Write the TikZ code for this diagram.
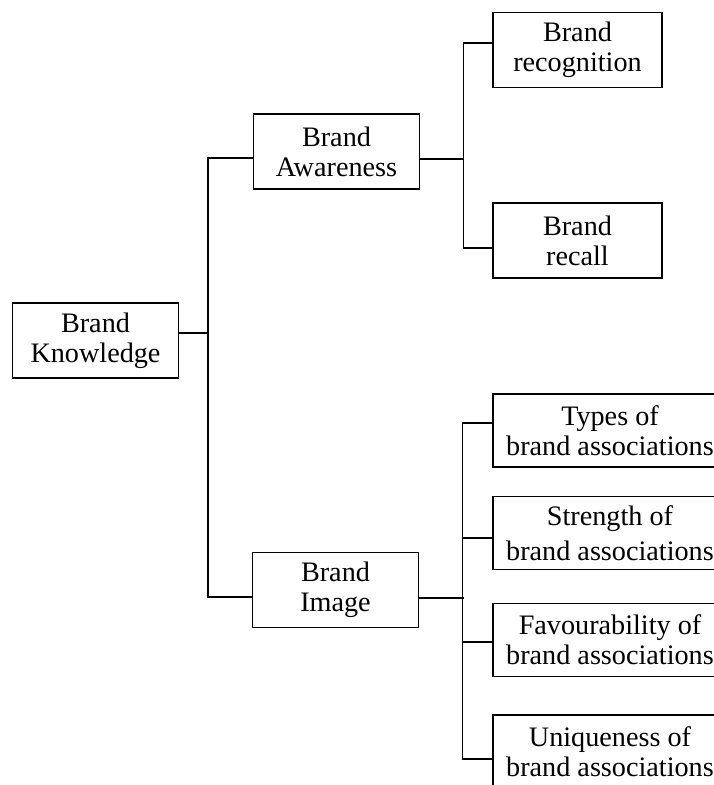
\documentclass[tikz,border=0pt]{standalone}
\usepackage{fontspec}
\setmainfont{Liberation Serif}

\begin{document}
\begin{tikzpicture}[x=1pt, y=-1pt,
    box/.style={draw, line width=1.3pt, inner sep=0pt, align=center,
      font=\fontsize{28.2}{30}\selectfont},
    smallbox/.style={box, minimum width=166pt, minimum height=75pt},
    assocbox/.style={box, minimum width=234pt, minimum height=73pt},
    link/.style={line width=1.3pt}]
    \useasboundingbox (0,0) rectangle (714,785);
    \clip (0,0) rectangle (714,785);

    % Root and second level
    \node[smallbox] (know) at (95.5,340.5) {Brand\\Knowledge};
    \node[smallbox] (aware) at (336.5,151.5) {Brand\\Awareness};
    \node[smallbox] (image) at (335.5,590) {Brand\\Image};

    % Awareness leaves
    \node[smallbox, minimum width=169pt] (recog) at (577.5,50) {Brand\\recognition};
    \node[smallbox, minimum width=169pt] (recall) at (577.5,240.5) {Brand\\recall};

    % Image leaves (run off the right edge)
    \node[assocbox] (types) at (610,430.5) {Types of\\brand associations};
    \node[assocbox] (strength) at (610,533) {Strength of\\[5pt]brand associations};
    \node[assocbox] (favour) at (610,640) {Favourability of\\brand associations};
    \node[assocbox] (unique) at (610,751.5) {Uniqueness of\\brand associations};

    % Trunk
    \draw[link] ([yshift=7.5pt]know.east) -- ++(30,0);
    \draw[link] ([yshift=-6.5pt]aware.west) -- ++(-45,0) |- ([yshift=-7pt]image.west);

    % Awareness branch
    \draw[link] ([yshift=-7.5pt]aware.east) -- ++(44,0);
    \draw[link] ([yshift=7pt]recog.west) -- ++(-29,0) |- ([yshift=-7.5pt]recall.west);

    % Image branch
    \draw[link] ([yshift=-8pt]image.east) -- ++(45,0);
    \draw[link] ([yshift=7.5pt]types.west) -- ++(-30,0) |- ([yshift=-7.5pt]unique.west);
    \draw[link] ([yshift=-5pt]strength.west) -- ++(-30,0);
    \draw[link] ([yshift=-2pt]favour.west) -- ++(-30,0);
  \end{tikzpicture}
\end{document}
